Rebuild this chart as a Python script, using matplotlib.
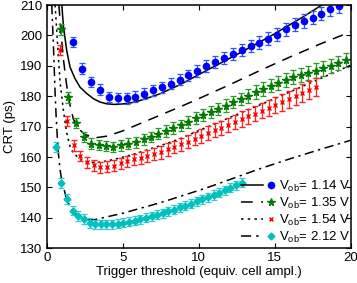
import matplotlib
matplotlib.use('Agg')
import matplotlib.pyplot as plt
from matplotlib.lines import Line2D
from matplotlib.legend_handler import HandlerBase

plt.rcParams['font.family'] = ['Liberation Sans', 'DejaVu Sans']
plt.rcParams['font.size'] = 9.5
plt.rcParams['mathtext.fontset'] = 'custom'
plt.rcParams['mathtext.rm'] = 'Liberation Sans'

# measured points: threshold (cell ampl.), CRT (ps), error (ps)
x114 = [1.75, 2.33, 2.92, 3.50, 4.08, 4.67, 5.25, 5.83, 6.42, 7.00, 7.58, 8.17, 8.75, 9.33, 9.92, 10.50,
        11.08, 11.67, 12.25, 12.83, 13.42, 14.00, 14.58, 15.17, 15.75, 16.33, 16.92, 17.50, 18.08, 18.67, 19.25]
y114 = [197.9, 189.1, 184.7, 182.2, 179.8, 179.5, 179.4, 179.9, 180.9, 181.9, 182.9, 184.1, 185.5, 186.9, 188.3, 189.9,
        191.3, 192.6, 193.8, 195.1, 196.5, 197.6, 199.0, 200.3, 202.0, 203.5, 204.8, 205.9, 207.2, 208.6, 209.6]
e114 = [1.7, 1.7, 1.7, 1.7, 1.7, 1.7, 1.8, 1.8, 1.8, 1.8, 1.8, 1.8, 1.9, 1.9, 1.9, 1.9,
        2.0, 2.0, 2.0, 2.0, 2.0, 2.1, 2.1, 2.1, 2.1, 2.1, 2.2, 2.2, 2.2, 2.2, 2.2]

x135 = [0.94, 1.43, 1.93, 2.42, 2.91, 3.41, 3.90, 4.39, 4.89, 5.38, 5.87, 6.37, 6.86, 7.35, 7.85, 8.34, 8.83, 9.33, 9.82, 10.31,
        10.81, 11.30, 11.79, 12.29, 12.78, 13.27, 13.77, 14.26, 14.75, 15.25, 15.74, 16.23, 16.73, 17.22, 17.71, 18.21, 18.70, 19.19, 19.69]
y135 = [202.0, 179.6, 171.2, 166.6, 164.4, 163.9, 163.6, 163.3, 163.8, 164.3, 164.9, 165.9, 166.6, 167.7, 168.6, 169.6, 170.4, 171.6, 172.8, 173.8,
        174.8, 175.8, 176.9, 178.1, 179.1, 180.1, 181.4, 182.4, 183.5, 184.5, 185.3, 186.2, 187.0, 187.7, 188.4, 189.2, 190.0, 191.0, 191.9]
e135 = [1.7, 1.7, 1.7, 1.7, 1.7, 1.7, 1.7, 1.7, 1.8, 1.8, 1.8, 1.8, 1.8, 1.9, 1.9, 1.9, 1.9, 2.0, 2.0, 2.0,
        2.0, 2.1, 2.1, 2.1, 2.1, 2.2, 2.2, 2.2, 2.2, 2.3, 2.3, 2.3, 2.3, 2.4, 2.4, 2.4, 2.4, 2.4, 2.4]

x154 = [0.87, 1.31, 1.76, 2.20, 2.64, 3.09, 3.53, 3.97, 4.41, 4.86, 5.30, 5.74, 6.19, 6.63, 7.07, 7.52, 7.96, 8.40, 8.84, 9.29,
        9.73, 10.17, 10.62, 11.06, 11.50, 11.95, 12.39, 12.83, 13.27, 13.72, 14.16, 14.60, 15.05, 15.49, 15.93, 16.38, 16.82, 17.26, 17.71]
y154 = [195.2, 171.8, 163.8, 160.3, 158.2, 157.3, 156.6, 156.8, 157.2, 157.9, 158.6, 159.2, 159.7, 160.3, 161.0, 161.6, 162.5, 163.3, 164.2, 165.1,
        166.0, 166.9, 167.8, 168.8, 169.6, 170.6, 171.5, 172.5, 173.4, 174.3, 175.3, 176.2, 177.2, 178.0, 179.0, 180.0, 181.0, 182.0, 183.0]
e154 = [1.7, 1.7, 1.7, 1.7, 1.7, 1.8, 1.8, 1.8, 1.8, 1.9, 1.9, 1.9, 2.0, 2.0, 2.0, 2.1, 2.1, 2.1, 2.2, 2.2,
        2.2, 2.3, 2.3, 2.3, 2.4, 2.4, 2.4, 2.5, 2.5, 2.5, 2.6, 2.6, 2.7, 2.7, 2.8, 2.8, 2.9, 2.9, 3.0]

x212 = [0.59, 0.96, 1.33, 1.70, 2.07, 2.44, 2.82, 3.19, 3.56, 3.93, 4.30, 4.67, 5.04, 5.41, 5.78, 6.16, 6.53,
        6.90, 7.27, 7.64, 8.01, 8.38, 8.75, 9.12, 9.50, 9.87, 10.24, 10.61, 10.98, 11.35, 11.72, 12.09, 12.46, 12.83]
y212 = [163.2, 151.5, 146.2, 142.4, 140.6, 139.6, 138.3, 137.9, 137.8, 137.8, 137.9, 138.1, 138.4, 138.7, 139.1, 139.5, 140.0,
        140.5, 141.0, 141.5, 142.1, 142.7, 143.4, 144.0, 144.7, 145.4, 146.1, 146.8, 147.5, 148.3, 149.1, 149.9, 150.7, 151.6]
e212 = [1.6, 1.6, 1.6, 1.5, 1.5, 1.5, 1.5, 1.5, 1.5, 1.5, 1.5, 1.5, 1.5, 1.5, 1.5, 1.5, 1.5,
        1.5, 1.5, 1.5, 1.5, 1.5, 1.5, 1.5, 1.5, 1.5, 1.5, 1.5, 1.5, 1.5, 1.5, 1.5, 1.5, 1.5]

# model curves
m114x = [0.99, 1.10, 1.31, 1.53, 1.86, 2.19, 2.63, 3.07, 3.50, 3.95, 4.50, 5.05, 5.60, 6.14, 6.80, 7.45, 8.10, 8.77,
         10.3, 12.5, 14.7, 16.9, 18.1]
m114y = [210.0, 203.0, 195.1, 189.6, 185.8, 183.0, 180.9, 179.2, 178.1, 177.5, 177.3, 177.5, 177.9, 178.6, 179.7, 180.8, 182.3, 183.8,
         187.9, 193.7, 199.7, 206.2, 210.0]
m135x = [0.80, 0.95, 1.10, 1.30, 1.50, 1.75, 2.00, 2.50, 3.30, 4.00, 5.00, 6.00, 7.00, 8.00, 9.00, 10.0, 12.0, 14.0, 16.0, 18.0, 20.0]
m135y = [210.0, 200.0, 192.0, 184.0, 177.8, 172.5, 169.8, 167.4, 166.4, 166.9, 168.6, 170.7, 172.8, 174.9, 177.0, 179.2, 183.7, 188.4, 192.9, 197.2, 201.2]
m154x = [0.55, 0.70, 0.87, 1.09, 1.31, 1.53, 1.75, 2.19, 2.63, 3.30, 3.95, 4.82, 5.70, 6.58, 7.45, 8.77, 10.0, 12.0, 14.0, 16.0, 18.0, 20.0]
m154y = [210.0, 198.0, 185.0, 175.5, 168.0, 163.5, 161.3, 159.3, 158.3, 158.2, 158.7, 159.7, 160.9, 162.3, 163.7, 166.0, 168.7, 172.9, 177.1, 181.4, 185.8, 190.2]
m212x = [0.33, 0.45, 0.55, 0.62, 0.70, 0.77, 0.87, 0.98, 1.31, 1.75, 2.41, 3.07, 3.95, 5.0, 6.0, 7.0, 8.0, 9.0, 10.0, 11.0, 12.0, 12.83,
         14.0, 16.0, 18.0, 20.0]
m212y = [210.0, 195.0, 181.0, 173.0, 166.0, 161.0, 156.0, 152.5, 146.0, 141.8, 139.5, 139.3, 140.3, 141.5, 142.9, 144.3, 145.8, 147.4, 149.0, 150.7, 152.5, 154.0,
         156.1, 159.4, 162.5, 165.5]

labels = [r'V$_{\rm ob}$= 1.14 V', r'V$_{\rm ob}$= 1.35 V', r'V$_{\rm ob}$= 1.54 V', r'V$_{\rm ob}$= 2.12 V']


class LineMarker(HandlerBase):
    def create_artists(self, legend, orig_handle, xdescent, ydescent, width, height, fontsize, trans):
        ln, mk = orig_handle
        y = height / 2.0 - ydescent
        a = Line2D([-xdescent, -xdescent + 0.66 * width], [y, y], color='k', lw=ln.get_linewidth(),
                   linestyle=ln.get_linestyle(), transform=trans)
        if ln._dash_pattern[1]:
            a.set_dashes(ln._dash_pattern[1])
        b = Line2D([-xdescent + 0.9 * width], [y], linestyle='none', marker=mk.get_marker(),
                   markersize=mk.get_markersize(), color=mk.get_color(), markeredgewidth=mk.get_markeredgewidth(),
                   transform=trans)
        return [a, b]


fig = plt.figure(figsize=(3.57, 2.83), dpi=100)
ax = fig.add_axes([0.131, 0.123, 0.851, 0.859])

l1, = ax.plot(m114x, m114y, color='k', lw=1.1, linestyle='-')
l2, = ax.plot(m135x, m135y, color='k', lw=1.1, dashes=(7, 5))
l3, = ax.plot(m154x, m154y, color='k', lw=1.1, dashes=(1.5, 2.5))
l4, = ax.plot(m212x, m212y, color='k', lw=1.1, dashes=(6, 3, 1.5, 3))

ek = dict(linestyle='none', elinewidth=0.9, capsize=2.2, capthick=0.9)
p1 = ax.errorbar(x114, y114, yerr=e114, marker='o', markersize=4.5, color='#0000ff', ecolor='#2a55ff', **ek)
p2 = ax.errorbar(x135, y135, yerr=e135, marker='*', markersize=5.5, color='#007a00', ecolor='#2a9a2a', **ek)
p3 = ax.errorbar(x154, y154, yerr=e154, marker='x', markersize=2.5, markeredgewidth=1.0, color='#ff0000', ecolor='#ff2020', **ek)
p4 = ax.errorbar(x212, y212, yerr=e212, marker='D', markersize=3.5, color='#00c0c0', ecolor='#30cccc', **ek)

ax.set_xlim(0, 20)
ax.set_ylim(130, 210)
ax.set_xticks([0, 5, 10, 15, 20])
ax.set_yticks(range(130, 211, 10))
ax.tick_params(direction='in', top=True, right=True, length=3.5, width=0.8, labelsize=9.5, pad=3)
for s in ax.spines.values():
    s.set_linewidth(1.1)
ax.set_xlabel('Trigger threshold (equiv. cell ampl.)', fontsize=9.5, labelpad=1)
ax.set_ylabel('CRT (ps)', fontsize=9.5, labelpad=3)

handles = [(l1, p1[0]), (l2, p2[0]), (l3, p3[0]), (l4, p4[0])]
ax.legend(handles, labels, handler_map={tuple: LineMarker()}, loc='lower right', frameon=False,
          fontsize=9.5, handlelength=2.5, handletextpad=0.35, labelspacing=0.15, borderaxespad=0.0,
          borderpad=0.25, bbox_to_anchor=(1.01, 0.0))

fig.savefig('out.png', dpi=100)
